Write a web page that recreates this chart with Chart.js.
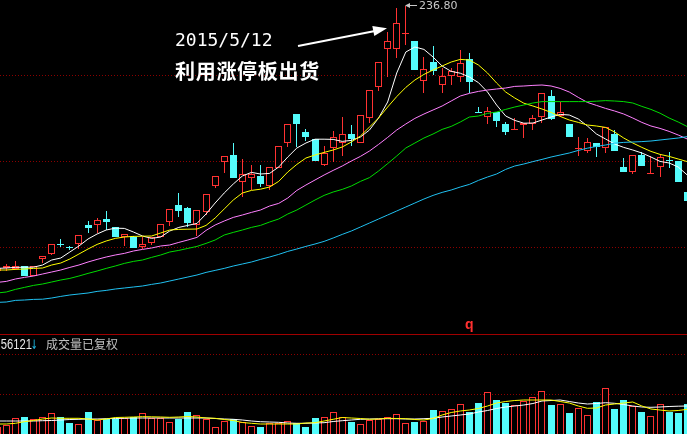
<!DOCTYPE html>
<html>
<head>
<meta charset="utf-8">
<script src="https://cdn.jsdelivr.net/npm/chart.js@4.4.0/dist/chart.umd.min.js"></script>
<style>
  html, body { margin: 0; padding: 0; background: #000; }
  #wrap { position: relative; width: 687px; height: 434px; overflow: hidden; background: #000; }
  #kline { position: absolute; left: 0; top: 0; }
  #volbox { position: absolute; left: 0; top: 334px; width: 687px; height: 100px; border-top: 1px solid #a00000; box-sizing: border-box; }
  #vol { position: absolute; left: 0; top: 0; }
  .t { position: absolute; white-space: nowrap; }
</style>
</head>
<body>
<div id="wrap">
  <canvas id="kline" width="687" height="334"></canvas>
  <div id="volbox"><canvas id="vol" width="687" height="99"></canvas></div>

  <svg class="t" style="left:0;top:0" width="687" height="434">
    <line x1="298" y1="46" x2="375" y2="31" stroke="#fff" stroke-width="2"/>
    <polygon points="387,28.3 372.3,26.1 374.3,35.9" fill="#fff"/>
    <line x1="409" y1="5.5" x2="417" y2="5.5" stroke="#c8c8c8" stroke-width="1"/>
    <polygon points="405,5.5 410,3 410,8" fill="#c8c8c8"/>
  </svg>

  <div class="t" style="left:175px;top:31px;font:18px 'DejaVu Sans Mono';line-height:18px;color:#fff">2015/5/12</div>
  <div class="t" style="left:175px;top:61px;font:bold 20px 'Noto Sans CJK SC';line-height:20px;letter-spacing:0.7px;color:#fff">利用涨停板出货</div>
  <div class="t" id="hi" style="left:419px;top:0;font:11px 'DejaVu Sans';line-height:11px;color:#c8c8c8"></div>
  <div class="t" style="left:465px;top:317px;font:bold 14px 'Liberation Sans';line-height:14px;color:#ff3030">q</div>
  <div class="t" id="vnum" style="right:655px;top:337px;font:14px 'Liberation Sans';line-height:14px;color:#e8e8e8;transform:scaleX(0.8);transform-origin:right"></div>
  <div class="t" style="left:31px;top:338px;font:bold 13px 'DejaVu Sans';line-height:13px;color:#1aa8d0;transform:scaleX(0.6);transform-origin:left">↓</div>
  <div class="t" style="left:46px;top:338px;font:12px 'Noto Sans CJK SC';line-height:12px;color:#c0c0c0">成交量已复权</div>
</div>

<script>
// daily candles, oldest first (the first one is cut by the left edge)
var opens = [104.3, 105.6, 105.3, 106.8, 101.8, 110.5, 112.8, 117.8, 116.1, 118.0,
  127.3, 127.3, 130.3, 126.5, 121.5, 121.2, 116.5, 118.2, 121.5, 129.0,
  137.3, 136.0, 127.3, 134.0, 147.0, 159.0, 162.3, 149.0, 151.0, 152.0,
  147.0, 156.0, 168.2, 182.8, 173.8, 170.2, 157.3, 165.7, 168.5, 172.8,
  168.5, 180.7, 196.2, 215.3, 215.3, 223.0, 219.3, 199.5, 209.0, 197.3,
  202.0, 201.2, 210.2, 183.6, 181.3, 184.0, 177.8, 174.6, 177.3, 177.7,
  181.2, 191.8, 182.0, 177.8, 165.5, 164.3, 168.2, 165.7, 172.7, 156.2,
  154.0, 162.3, 152.7, 156.2, 159.8, 159.5, 144.0];
var highs = [106.3, 107.8, 109.3, 107.0, 106.8, 111.8, 117.8, 120.2, 116.8, 122.3,
  129.2, 130.7, 134.3, 126.5, 122.7, 121.8, 121.2, 121.2, 127.8, 135.2,
  143.5, 136.5, 134.8, 142.8, 151.8, 161.8, 168.5, 160.2, 157.2, 157.3,
  156.2, 166.8, 177.8, 182.8, 175.3, 170.2, 166.8, 174.3, 181.5, 177.3,
  182.3, 194.8, 208.7, 223.7, 235.9, 236.8, 219.3, 211.2, 216.8, 205.7,
  205.7, 214.8, 213.2, 186.3, 186.5, 184.0, 179.0, 180.7, 178.2, 182.3,
  193.2, 194.8, 189.0, 177.8, 171.2, 170.7, 168.2, 176.5, 174.8, 160.7,
  162.3, 164.0, 161.8, 162.3, 164.0, 159.5, 145.3];
var lows = [103.8, 104.3, 104.8, 101.6, 101.8, 108.3, 112.3, 116.5, 114.8, 115.5,
  123.2, 123.2, 124.8, 121.5, 117.0, 116.0, 115.2, 117.3, 121.5, 126.8,
  131.5, 126.5, 121.8, 132.3, 145.7, 153.2, 151.0, 141.5, 144.8, 146.5,
  144.8, 156.0, 166.5, 166.5, 169.3, 159.5, 156.8, 159.0, 161.8, 166.8,
  168.5, 178.5, 194.3, 201.2, 210.7, 217.3, 204.8, 193.2, 202.3, 193.5,
  197.3, 199.0, 193.3, 183.1, 177.6, 176.3, 172.5, 174.6, 171.0, 174.8,
  178.5, 179.8, 181.5, 171.5, 162.0, 163.5, 161.5, 163.5, 164.5, 154.0,
  152.8, 156.8, 152.7, 151.5, 155.7, 149.0, 139.5];
var closes = [105.8, 106.6, 106.8, 101.8, 106.8, 111.8, 117.8, 117.3, 115.6, 122.3,
  125.7, 129.8, 128.7, 121.5, 122.7, 116.0, 117.7, 121.2, 127.8, 135.2,
  134.3, 128.5, 134.8, 142.8, 151.8, 161.8, 151.0, 153.0, 152.7, 147.8,
  156.2, 166.8, 177.8, 177.8, 171.5, 159.5, 163.2, 171.5, 172.8, 170.2,
  182.3, 194.8, 208.7, 219.2, 228.2, 223.5, 204.8, 205.3, 204.5, 201.8,
  204.3, 208.5, 198.7, 183.1, 184.3, 179.3, 173.8, 175.2, 178.2, 181.0,
  193.2, 180.3, 184.0, 171.5, 166.0, 168.7, 166.2, 176.5, 164.5, 154.0,
  162.3, 156.8, 153.2, 161.2, 159.3, 149.0, 139.5];

// moving averages as drawn by the software
var ma5 = [105.6, 105.8, 106.1, 106.2, 106.2, 107.3, 109.8, 110.8, 113.8, 116.8,
  120.3, 122.8, 124.8, 125.7, 125.6, 123.8, 121.8, 120.6, 121.3, 124.3,
  126.1, 127.1, 128.1, 132.8, 138.3, 143.3, 147.8, 151.8, 153.6, 152.8,
  153.1, 156.3, 161.3, 165.8, 168.3, 170.2, 170.2, 170.1, 169.1, 169.6,
  171.3, 174.8, 180.8, 188.8, 203.3, 213.8, 216.3, 215.1, 211.3, 206.8,
  204.1, 203.2, 201.3, 198.5, 193.8, 187.3, 181.8, 179.6, 178.2, 178.3,
  179.8, 181.3, 182.6, 182.3, 180.3, 176.8, 172.8, 170.3, 167.8, 166.1,
  164.8, 163.3, 161.3, 159.1, 158.3, 156.3, 152.3];
var ma10 = [104.8, 104.8, 105.1, 105.3, 105.6, 105.8, 107.3, 108.3, 110.3, 112.8,
  115.3, 117.6, 119.3, 120.6, 121.3, 121.6, 121.7, 121.8, 123.3, 124.8,
  125.1, 125.2, 125.3, 127.1, 130.8, 135.3, 139.8, 143.3, 144.6, 145.2,
  146.3, 149.1, 153.8, 157.6, 160.8, 162.3, 163.6, 164.8, 166.3, 168.8,
  171.8, 176.3, 180.8, 186.3, 191.5, 196.1, 199.8, 202.6, 204.8, 206.8,
  208.8, 210.1, 209.8, 207.3, 203.3, 198.3, 193.8, 190.8, 188.2, 186.8,
  185.3, 183.6, 181.6, 179.8, 178.6, 177.3, 176.8, 176.1, 173.8, 170.8,
  168.3, 166.1, 164.1, 162.6, 161.6, 160.3, 159.0];
var ma20 = [98.6, 99.1, 100.3, 101.1, 101.8, 102.8, 103.8, 104.8, 106.1, 107.3,
  108.8, 110.1, 111.3, 112.3, 113.1, 114.3, 115.1, 115.8, 116.8, 117.3,
  118.6, 119.8, 121.1, 124.6, 127.3, 129.3, 131.1, 132.3, 133.6, 134.8,
  136.8, 138.1, 140.8, 144.6, 147.3, 149.8, 152.3, 154.6, 156.8, 159.3,
  161.6, 164.3, 167.6, 171.1, 174.8, 177.8, 180.6, 182.8, 184.8, 186.8,
  189.3, 191.8, 193.1, 194.1, 194.8, 195.3, 195.8, 196.6, 196.8, 197.1,
  197.3, 196.8, 195.6, 193.8, 191.1, 188.6, 187.1, 185.6, 184.3, 182.8,
  180.8, 178.6, 176.8, 175.6, 174.1, 172.3, 170.3];
var ma30 = [93.3, 93.8, 95.1, 96.1, 97.1, 97.8, 98.8, 99.8, 100.6, 101.8,
  103.1, 104.3, 105.6, 106.8, 108.1, 109.1, 109.8, 111.1, 112.3, 113.8,
  114.6, 115.6, 116.6, 118.1, 119.8, 122.3, 123.6, 124.8, 126.1, 127.1,
  128.8, 130.3, 132.8, 134.8, 137.3, 139.8, 142.1, 143.8, 145.1, 146.8,
  149.1, 151.0, 154.3, 158.0, 161.8, 165.8, 168.3, 170.8, 172.8, 175.1,
  176.6, 178.8, 181.3, 181.8, 183.1, 183.8, 185.1, 186.3, 187.3, 188.3,
  189.0, 189.0, 189.0, 189.0, 189.0, 189.0, 189.2, 189.5, 189.3, 189.0,
  188.3, 186.6, 185.1, 183.2, 180.8, 178.8, 176.5];
var ma60 = [88.6, 88.8, 89.6, 89.8, 90.1, 90.2, 90.8, 91.6, 92.3, 92.8,
  93.3, 94.1, 94.6, 95.3, 95.8, 96.3, 96.8, 97.6, 98.3, 99.3,
  100.3, 101.3, 102.3, 103.6, 104.6, 105.6, 106.8, 107.8, 108.8, 110.1,
  111.3, 112.6, 114.1, 115.3, 116.6, 117.8, 119.1, 120.8, 122.6, 124.3,
  126.3, 128.3, 130.3, 132.3, 134.3, 136.3, 138.3, 140.3, 142.1, 143.6,
  144.8, 146.3, 147.6, 149.6, 151.3, 152.8, 155.1, 156.8, 157.8, 159.0,
  160.1, 161.3, 162.3, 163.3, 164.6, 165.7, 166.6, 167.3, 168.2, 168.6,
  168.8, 169.0, 169.3, 169.8, 170.3, 170.8, 171.5];

// volume (adjusted) and its averages
var vols = [33300, 35000, 41700, 43000, 40700, 42700, 46700, 42700, 36700, 35700,
  48000, 40000, 40700, 41000, 41700, 42700, 46700, 41700, 41700, 37700,
  41300, 48000, 45300, 41300, 32700, 39300, 40700, 38300, 34000, 33000,
  36700, 36700, 38700, 36700, 33000, 42000, 42700, 47700, 42700, 38000,
  35700, 40000, 40700, 42700, 45700, 36700, 38000, 38700, 50000, 48700,
  51000, 55700, 47700, 57000, 67700, 60000, 56700, 54700, 59000, 62700,
  68700, 55000, 55700, 47000, 51700, 44700, 58000, 71700, 51000, 60000,
  54000, 48000, 44000, 55700, 48000, 47000, 56121];
var vma5 = [39000, 39000, 39000, 39000, 39000, 39300, 39500, 40000, 40500, 40700,
  41000, 41000, 41300, 41500, 41700, 42000, 42000, 42000, 42000, 42000,
  42000, 42000, 42000, 42000, 41500, 41000, 40700, 40000, 39000, 38300,
  38000, 37700, 37000, 36700, 36700, 37000, 37300, 38500, 39300, 40000,
  40700, 41000, 41200, 41300, 41300, 41000, 41000, 41300, 41700, 43000,
  44000, 45000, 46000, 48000, 49500, 51500, 53000, 54000, 55000, 56500,
  59000, 59500, 60000, 58500, 57000, 56000, 56500, 57300, 56700, 55500,
  54000, 53000, 52700, 53000, 53500, 53800, 54000];
var vma10 = [36000, 36000, 36700, 38300, 39500, 41000, 42000, 41700, 41700, 41700,
  41000, 40000, 41000, 42500, 42700, 43000, 43300, 43200, 43000, 42700,
  43000, 43500, 43000, 42000, 41700, 40500, 39500, 37500, 36700, 36000,
  36000, 36000, 36000, 36000, 37000, 37300, 39000, 40700, 42500, 42000,
  41500, 40700, 41000, 41700, 41500, 41300, 40500, 40000, 41500, 45000,
  47500, 49000, 50000, 51500, 54000, 57000, 58500, 59500, 60000, 60000,
  60000, 60000, 58500, 57000, 54000, 51700, 52000, 55000, 56000, 57000,
  58000, 54000, 51000, 50000, 49000, 49500, 50700];

// levels of the dotted grid lines
var priceGrid = [202.3, 159.3, 116.3];
var volGrid = [105000, 66000];

var RED = '#ff3232';
var CYAN = '#54fcfc';

var xs = closes.map(function(c, i) { return i; });
var up = closes.map(function(c, i) { return c >= opens[i]; });

function line(values, color) {
  return {
    type: 'line',
    data: xs.map(function(i) { return {x: i, y: values[i]}; }),
    borderColor: color,
    borderWidth: 1,
    pointRadius: 0,
    tension: 0,
    order: 0
  };
}

function gridAxis(min, max, levels) {
  return {
    min: min,
    max: max,
    afterBuildTicks: function(axis) {
      axis.ticks = levels.map(function(v) { return {value: v}; });
    },
    ticks: {display: false},
    grid: {color: '#8c0000', lineWidth: 1, drawTicks: false, borderDash: [1, 2]},
    border: {display: false, dash: [1, 2]}
  };
}

// put bar edges on whole pixels so candles stay sharp like the original
var snapBars = {
  id: 'snapBars',
  afterDatasetsUpdate: function(chart) {
    chart.data.datasets.forEach(function(ds, di) {
      var meta = chart.getDatasetMeta(di);
      if (meta.type !== 'bar') return;
      meta.data.forEach(function(el) {
        el.x = Math.floor(el.x) + 0.5;
        var a = Math.round(el.y), b = Math.round(el.base);
        if (a === b) b = a + 1;
        el.y = a;
        el.base = b;
      });
    });
  }
};

var xAxis = {type: 'linear', min: 0.306, max: 75.97, offset: false, display: false};

var common = {
  responsive: false,
  animation: false,
  events: [],
  layout: {padding: 0, autoPadding: false},
  plugins: {legend: {display: false}, tooltip: {enabled: false}}
};

var kline = new Chart(document.getElementById('kline'), {
  type: 'bar',
  plugins: [snapBars],
  data: {
    datasets: [
      line(ma60, '#20c0f0'),
      line(ma30, '#00dc00'),
      line(ma20, '#ff80ff'),
      line(ma10, '#ffff00'),
      line(ma5, '#ffffff'),
      {
        data: xs.map(function(i) { return {x: i, y: [opens[i], closes[i]]}; }),
        backgroundColor: function(ctx) { return up[ctx.dataIndex] ? '#000' : CYAN; },
        borderColor: function(ctx) { return up[ctx.dataIndex] ? RED : CYAN; },
        borderWidth: 1,
        borderSkipped: false,
        inflateAmount: 0,
        barThickness: 7,
        minBarLength: 1,
        grouped: false,
        order: 1
      },
      {
        data: xs.map(function(i) { return {x: i, y: [lows[i], highs[i]]}; }),
        backgroundColor: function(ctx) { return up[ctx.dataIndex] ? RED : CYAN; },
        borderWidth: 0,
        inflateAmount: 0,
        barThickness: 1,
        grouped: false,
        order: 2
      }
    ]
  },
  options: Object.assign({}, common, {
    scales: {x: xAxis, y: gridAxis(72.8, 239.8, priceGrid)}
  })
});

var volume = new Chart(document.getElementById('vol'), {
  type: 'bar',
  plugins: [snapBars],
  data: {
    datasets: [
      line(vma10, '#ffff00'),
      line(vma5, '#ffffff'),
      {
        data: xs.map(function(i) { return {x: i, y: vols[i]}; }),
        backgroundColor: function(ctx) { return up[ctx.dataIndex] ? '#000' : CYAN; },
        borderColor: function(ctx) { return up[ctx.dataIndex] ? RED : CYAN; },
        borderWidth: 1,
        borderSkipped: false,
        inflateAmount: 0,
        barThickness: 7,
        grouped: false,
        order: 1
      }
    ]
  },
  options: Object.assign({}, common, {
    scales: {x: xAxis, y: gridAxis(26000, 125000, volGrid)}
  })
});

// labels that come from the data
document.getElementById('hi').textContent = Math.max.apply(null, highs).toFixed(2);
document.getElementById('vnum').textContent = vols[vols.length - 1];
</script>
</body>
</html>
